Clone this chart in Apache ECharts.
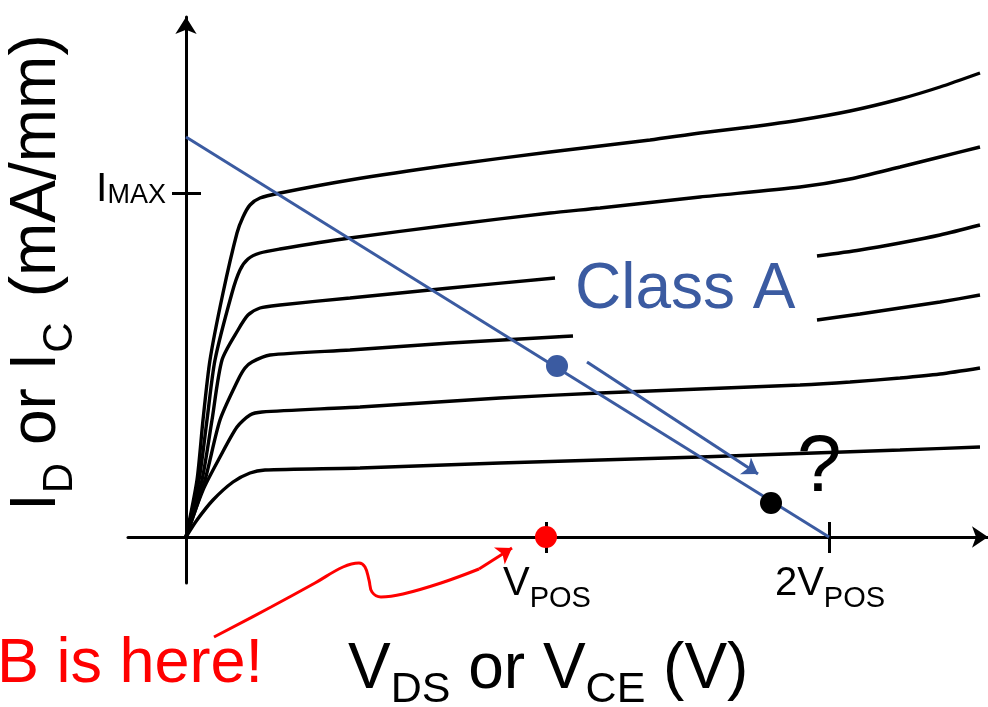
<!DOCTYPE html>
<html>
<head>
<meta charset="utf-8">
<script src="https://cdn.jsdelivr.net/npm/echarts@6/dist/echarts.min.js"></script>
<style>
  html, body { margin: 0; padding: 0; background: #fff; }
  #chart { width: 988px; height: 707px; }
</style>
</head>
<body>
<div id="chart"></div>
<script>
// Output characteristics of a transistor with a Class A load line.
// x = V_DS / V_CE (arbitrary units), y = I_D / I_C (arbitrary units).

// Output curves, one per drive level (top to bottom)
const curve1 = [[0,0],[1.1,5.7],[1.7,11.7],[2.4,17.7],[3.7,24.4],[5.1,30.4],[5.7,32.0],[6.4,33.2],[7.4,33.9],[9.4,34.4],[16.4,35.7],[26.4,37.2],[36.4,38.5],[46.4,39.7],[51.4,40.4],[56.4,41.0],[61.4,41.7],[66.4,42.6],[71.4,43.8],[75.4,45.0],[79.4,46.4]];
const curve2 = [[0,0],[1.3,5.7],[2.1,11.7],[2.9,17.7],[4.6,24.4],[5.4,26.7],[6.2,27.8],[7.4,28.4],[9.4,28.8],[16.4,29.9],[26.4,31.2],[36.4,32.4],[41.4,32.9],[51.4,34.0],[61.4,35.0],[66.4,35.8],[71.4,37.0],[75.4,38.0],[79.4,39.0]];
const curve3a = [[0,0],[1.6,5.7],[2.6,11.7],[3.6,17.7],[5.2,20.7],[6.2,22.2],[7.4,22.9],[9.4,23.2],[16.4,23.9],[26.4,24.9],[36.9,25.9]];
const curve3b = [[63.1,28.1],[67.4,28.7],[71.4,29.4],[75.4,30.2],[79.4,31.2]];
const curve4a = [[0,0],[1.9,5.7],[3.4,11.7],[5.2,15.7],[5.9,16.9],[6.6,17.5],[8.4,18.2],[16.4,18.7],[26.4,19.4],[36.9,20.0],[38.7,20.1]];
const curve4b = [[63.1,21.7],[67.4,22.3],[71.4,22.9],[75.4,23.5],[79.4,24.2]];
const curve5 = [[0,0],[1.7,4.7],[3.4,8.0],[5.1,11.0],[6.4,12.2],[7.6,12.5],[17.4,13.0],[31.4,13.9],[41.4,14.4],[51.4,14.8],[61.4,15.2],[66.4,15.5],[71.4,15.9],[75.4,16.3],[79.4,16.9]];
const curve6 = [[0,0],[1.1,1.7],[2.7,3.7],[4.7,5.5],[6.4,6.4],[7.9,6.7],[17.4,6.9],[31.4,7.4],[51.4,8.0],[71.4,8.7],[79.4,9.0]];

// Class A load line and operating points
const loadLine = [[0, 40.0], [64.3, 0]];
const quiescentPoint = [37.1, 17.1];
const swingPoint = [58.5, 3.4];
const biasPointB = [36.0, 0];
const swingArrow = [[40.1, 17.5], [57.2, 6.3]];

// Curvy pointer to the Class B bias point
const pointerPath = [[2.8,-10.0],[8.5,-7.0],[12.9,-4.6],[15.7,-3.0],[17.3,-2.6],[17.9,-3.0],[18.3,-4.3],[18.6,-5.5],[19.5,-6.0],[21.7,-5.7],[25.5,-4.6],[29.3,-3.2]];
const pointerHead = [[29.3,-3.2],[32.6,-1.1]];

// Axis ticks and their labels
const vTicks = [36.0, 64.3];
const vTickLabels = [['V', 'POS'], ['2V', 'POS']];
const iTicks = [34.4];
const iTickLabels = [['I', 'MAX']];

const BLUE = '#3b5ba1';
const RED = '#ff0000';
const FONT = '"Liberation Sans", Arial, Helvetica, sans-serif';

const chart = echarts.init(document.getElementById('chart'), null, { renderer: 'canvas' });

function curveSeries(data) {
  return {
    type: 'line', data: data, showSymbol: false, smooth: 0.25,
    lineStyle: { color: '#000', width: 3.4 }, z: 2, silent: true
  };
}

const tickLines = [];
vTicks.forEach(v => tickLines.push({ coords: [[v, 1.5], [v, -1.6]] }));
iTicks.forEach(v => tickLines.push({ coords: [[-1.4, v], [1.5, v]] }));

chart.setOption({
  animation: false,
  backgroundColor: '#fff',
  grid: { left: 128, top: 17, width: 860, height: 566, containLabel: false, outerBoundsMode: 'none' },
  xAxis: {
    type: 'value', min: -5.8, max: 80.2,
    axisLine: { onZero: true, symbol: ['none', 'arrow'], symbolSize: [16, 16], lineStyle: { color: '#000', width: 3 } },
    axisTick: { show: false }, axisLabel: { show: false }, splitLine: { show: false }
  },
  yAxis: {
    type: 'value', min: -4.6, max: 52,
    axisLine: { onZero: true, symbol: ['none', 'arrow'], symbolSize: [16, 17], lineStyle: { color: '#000', width: 3 } },
    axisTick: { show: false }, axisLabel: { show: false }, splitLine: { show: false }
  },
  series: [
    curveSeries(curve1), curveSeries(curve2),
    curveSeries(curve3a), curveSeries(curve3b),
    curveSeries(curve4a), curveSeries(curve4b),
    curveSeries(curve5), curveSeries(curve6),
    {
      type: 'lines', coordinateSystem: 'cartesian2d', z: 3,
      data: tickLines, lineStyle: { color: '#000', width: 3, opacity: 1 }, silent: true
    },
    {
      type: 'line', data: loadLine, showSymbol: false, z: 4, silent: true,
      lineStyle: { color: BLUE, width: 3 }
    },
    {
      type: 'lines', coordinateSystem: 'cartesian2d', z: 4, silent: true,
      symbol: ['none', 'arrow'], symbolSize: 15,
      data: [{ coords: swingArrow }],
      lineStyle: { color: BLUE, width: 3.2, opacity: 1 }
    },
    {
      type: 'line', data: pointerPath, showSymbol: false, smooth: 0.4, clip: false, z: 4, silent: true,
      lineStyle: { color: RED, width: 3 }
    },
    {
      type: 'lines', coordinateSystem: 'cartesian2d', clip: false, z: 4, silent: true,
      symbol: ['none', 'arrow'], symbolSize: 15,
      data: [{ coords: pointerHead }],
      lineStyle: { color: RED, width: 3, opacity: 1 }
    },
    {
      type: 'scatter', z: 5, symbolSize: 22, silent: true,
      itemStyle: { opacity: 1 },
      data: [
        { value: quiescentPoint, itemStyle: { color: BLUE, opacity: 1 } },
        { value: swingPoint, itemStyle: { color: '#000', opacity: 1 } },
        { value: biasPointB, itemStyle: { color: RED, opacity: 1 } }
      ]
    }
  ]
});

// Text runs with subscripts: parts = [{t, s, dy, gap}], anchored on the baseline
const measureCtx = document.createElement('canvas').getContext('2d');
function textWidth(t, s) {
  measureCtx.font = s + 'px ' + FONT;
  return measureCtx.measureText(t).width;
}
function textRun(parts, x, y, align, color, rotation) {
  let total = 0;
  const widths = parts.map(p => {
    const w = textWidth(p.t, p.s);
    total += (p.gap || 0) + w;
    return w;
  });
  let cursor = align === 'center' ? -total / 2 : (align === 'right' ? -total : 0);
  const children = parts.map((p, i) => {
    cursor += p.gap || 0;
    const el = {
      type: 'text', x: cursor, y: (p.dy || 0) - 0.35 * p.s,
      style: { text: p.t, font: p.s + 'px ' + FONT, fill: color, textAlign: 'left', verticalAlign: 'middle', textVerticalAlign: 'middle' }
    };
    cursor += widths[i];
    return el;
  });
  return { type: 'group', x: x, y: y, rotation: rotation || 0, children: children, silent: true };
}

const graphics = [];
vTicks.forEach((v, i) => {
  const p = chart.convertToPixel({ gridIndex: 0 }, [v, 0]);
  graphics.push(textRun([{ t: vTickLabels[i][0], s: 40 }, { t: vTickLabels[i][1], s: 29, dy: 11 }], p[0] + 1, p[1] + 61, 'center', '#000'));
});
iTicks.forEach((v, i) => {
  const p = chart.convertToPixel({ gridIndex: 0 }, [0, v]);
  graphics.push(textRun([{ t: iTickLabels[i][0], s: 41 }, { t: iTickLabels[i][1], s: 27, dy: 1 }], p[0] - 20, p[1] + 11, 'right', '#000'));
});

// Axis titles
graphics.push(textRun([
  { t: 'V', s: 64 }, { t: 'DS', s: 43, dy: 12 }, { t: ' or V', s: 64 }, { t: 'CE', s: 43, dy: 12 }, { t: ' (V)', s: 64 }
], 348, 693, 'left', '#000'));
graphics.push(textRun([
  { t: 'I', s: 64 }, { t: 'D', s: 42, dy: 15 }, { t: ' or ', s: 64 }, { t: 'I', s: 64 }, { t: 'C', s: 42, dy: 15 }, { t: '(mA/mm)', s: 64, gap: 25 }
], 60, 511, 'left', '#000', Math.PI / 2));

// Annotations
graphics.push(textRun([{ t: 'Class A', s: 64 }], 575, 313, 'left', BLUE));
graphics.push(textRun([{ t: '?', s: 80 }], 797, 497, 'left', '#000'));
graphics.push(textRun([{ t: 'B is here!', s: 63 }], -3, 687, 'left', RED));

chart.setOption({ graphic: graphics });
</script>
</body>
</html>
